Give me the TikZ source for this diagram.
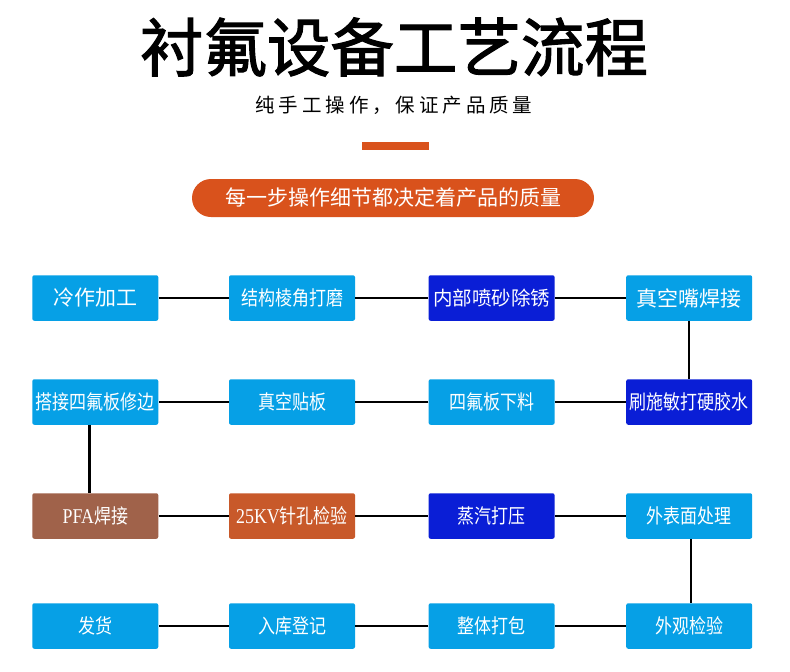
\documentclass[tikz,border=0pt]{standalone}
\usepackage{fontspec}
\newfontfamily\cjk{Noto Sans CJK SC}
\newfontfamily\titlefont{Noto Sans CJK SC}[FakeBold=1.8]
\newfontfamily\subfont{Noto Sans CJK SC}[LetterSpace=20]
\newfontfamily\boxfont{Noto Sans CJK SC}[FakeStretch=0.85]
\newfontfamily\latserif{Liberation Serif}[FakeStretch=0.85]
\definecolor{lblue}{HTML}{06A0E6}
\definecolor{dblue}{HTML}{0A1ED6}
\definecolor{brownbox}{HTML}{A0624A}
\definecolor{orangebox}{HTML}{C8592A}
\definecolor{pill}{HTML}{D9521C}
\tikzset{
  stepbox/.style={minimum width=126pt, minimum height=45.5pt, inner sep=0pt,
    rounded corners=2pt, text=white, font=\boxfont\fontsize{20}{24}\selectfont},
  lb/.style={stepbox, fill=lblue},
  db/.style={stepbox, fill=dblue},
  conn/.style={draw=black, line width=2.4pt}
}
\begin{document}
\begin{tikzpicture}[x=1pt,y=-1pt]
\useasboundingbox[fill=white] (0,0) rectangle (790,672);
% header
\node[inner sep=0pt, font=\titlefont\fontsize{63.5}{70}\selectfont] (title) at (394,47) {衬氟设备工艺流程};
\node[inner sep=0pt, font=\subfont\fontsize{19.5}{22}\selectfont] (sub) at (394,105) {纯手工操作，保证产品质量};
\fill[pill] (362,142) rectangle (429,150);
\node[fill=pill, rounded corners=19pt, minimum width=402pt, minimum height=38pt, inner sep=0pt,
  text=white, font=\cjk\fontsize{21}{24}\selectfont] (banner) at (393,198) {每一步操作细节都决定着产品的质量};
% row 1
\node[lb, font=\cjk\fontsize{21}{24}\selectfont] (a1) at (95.3,298) {冷作加工};
\node[lb] (a2) at (292,298) {结构棱角打磨};
\node[db, font=\cjk\fontsize{19.5}{24}\selectfont] (a3) at (491.6,298) {内部喷砂除锈};
\node[lb, font=\cjk\fontsize{21}{24}\selectfont] (a4) at (689.2,298) {真空嘴焊接};
% row 2
\node[lb] (b1) at (95.3,402) {搭接四氟板修边};
\node[lb] (b2) at (292,402) {真空贴板};
\node[lb] (b3) at (491.6,402) {四氟板下料};
\node[db] (b4) at (689.2,402) {刷施敏打硬胶水};
% row 3
\node[stepbox, fill=brownbox] (c1) at (95.3,516) {{\latserif\fontsize{21}{24}\selectfont PFA}焊接};
\node[stepbox, fill=orangebox] (c2) at (292,516) {{\latserif\fontsize{21}{24}\selectfont 25KV}针孔检验};
\node[db] (c3) at (491.6,516) {蒸汽打压};
\node[lb] (c4) at (689.2,516) {外表面处理};
% row 4
\node[lb] (d1) at (95.3,626) {发货};
\node[lb] (d2) at (292,626) {入库登记};
\node[lb] (d3) at (491.6,626) {整体打包};
\node[lb] (d4) at (689.2,626) {外观检验};
% connectors
\draw[conn] (a1) -- (a2);
\draw[conn] (a2) -- (a3);
\draw[conn] (a3) -- (a4);
\draw[conn] (a4) -- (b4);
\draw[conn] (b4) -- (b3);
\draw[conn] (b3) -- (b2);
\draw[conn] (b2) -- (b1);
\draw[conn] ([xshift=-6pt]b1.south) -- ([xshift=-6pt]c1.north);
\draw[conn] (c1) -- (c2);
\draw[conn] (c2) -- (c3);
\draw[conn] (c3) -- (c4);
\draw[conn] ([xshift=2pt]c4.south) -- ([xshift=2pt]d4.north);
\draw[conn] (d4) -- (d3);
\draw[conn] (d3) -- (d2);
\draw[conn] (d2) -- (d1);
\end{tikzpicture}
\end{document}
